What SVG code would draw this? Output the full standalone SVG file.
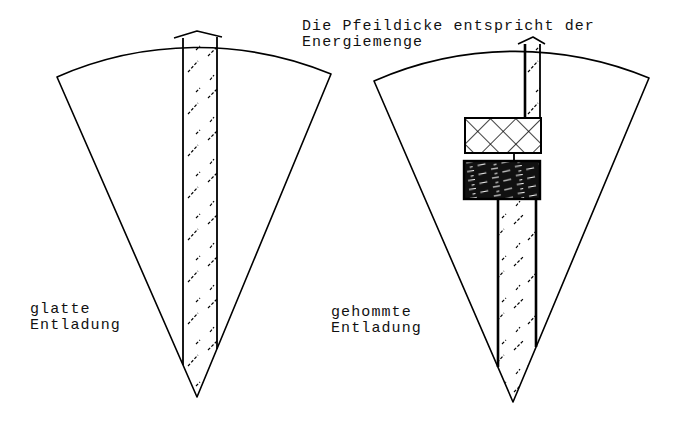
<svg xmlns="http://www.w3.org/2000/svg" width="678" height="431" viewBox="0 0 678 431">
<style>
.edge{fill:none;stroke:#000;stroke-width:1.6;stroke-linejoin:round}
.shaft{fill:none;stroke:#000;stroke-width:1.8}
.shaftb{fill:none;stroke:#000;stroke-width:2.6}
.t{font-family:"Liberation Mono","DejaVu Sans Mono",monospace;font-size:15px;letter-spacing:1.1px;fill:#111}
</style>
<defs>
<pattern id="hatch" width="34" height="42" patternUnits="userSpaceOnUse">
<g stroke="#000" stroke-width="1.2" stroke-dasharray="3 1.8" fill="none">
<line x1="4" y1="14" x2="14" y2="4"/>
<line x1="18" y1="30" x2="28" y2="19"/>
<line x1="6" y1="38" x2="10" y2="33"/>
<line x1="26" y1="8" x2="30" y2="4"/>
</g>
</pattern>
<pattern id="cross" width="18" height="18" patternUnits="userSpaceOnUse" patternTransform="translate(465 118) rotate(45)">
<g stroke="#000" stroke-width="1.5">
<line x1="0" y1="0" x2="0" y2="18"/>
<line x1="0" y1="0" x2="18" y2="0"/>
</g>
</pattern>
<pattern id="dark" width="24" height="9" patternUnits="userSpaceOnUse" patternTransform="translate(464 161) rotate(-6)">
<rect width="24" height="9" fill="#111"/>
<g stroke="#fff" stroke-width="1.1">
<line x1="2" y1="2" x2="9" y2="1.5"/>
<line x1="13" y1="6" x2="21" y2="5"/>
<line x1="5" y1="7" x2="8" y2="6.5"/>
</g>
</pattern>
</defs>

<g id="sector-left">
<path class="edge" d="M197 397 L57 77 A350 350 0 0 1 331 74 Z"/>
</g>
<g id="sector-right">
<path class="edge" d="M513 402 L374 81 A350 350 0 0 1 649 78 Z"/>
</g>

<g id="connectors">
<g id="arrow-left">
<polygon points="183,40 217,40 217,349 197,397 183,365" fill="url(#hatch)"/>
<polyline class="edge" points="174,38 197,31 222,37"/>
<line class="shaft" x1="183" y1="38" x2="183" y2="365"/>
<line class="shaft" x1="217" y1="37" x2="217" y2="349"/>
</g>
<g id="arrow-right-upper">
<rect x="525" y="44" width="15" height="74" fill="url(#hatch)"/>
<polyline class="edge" points="518,44 533,37 545,44"/>
<line class="shaftb" x1="525" y1="44" x2="525" y2="118"/>
<line class="shaft" x1="540" y1="44" x2="540" y2="118"/>
<line class="shaft" x1="514" y1="153" x2="514" y2="161"/>
</g>
<g id="arrow-right-lower">
<polygon points="498,199 536,199 536,347 513,402 498,367" fill="url(#hatch)"/>
<line class="shaftb" x1="498" y1="199" x2="498" y2="367"/>
<line class="shaftb" x1="536" y1="199" x2="536" y2="347"/>
</g>
</g>

<g id="box-cross">
<rect x="465" y="118" width="76" height="35" fill="url(#cross)" stroke="#000" stroke-width="2"/>
</g>
<g id="box-dark">
<rect x="464" y="161" width="76" height="38" fill="url(#dark)" stroke="#000" stroke-width="2.4"/>
</g>

<g id="label-top">
<text class="t" x="302" y="30">Die Pfeildicke entspricht der</text>
<text class="t" x="302" y="46">Energiemenge</text>
</g>
<g id="label-left">
<text class="t" x="30" y="313">glatte</text>
<text class="t" x="30" y="329">Entladung</text>
</g>
<g id="label-right">
<text class="t" x="331" y="316">gehommte</text>
<text class="t" x="331" y="332">Entladung</text>
</g>
</svg>
